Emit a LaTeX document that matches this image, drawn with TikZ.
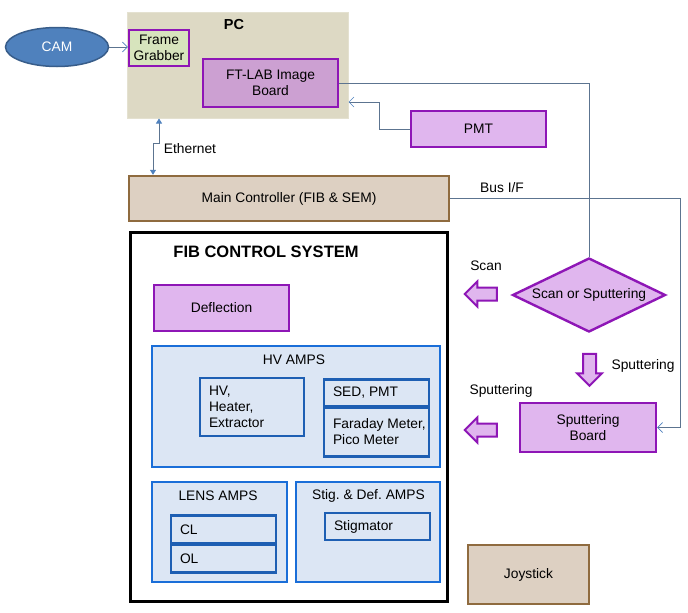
\documentclass[tikz,border=0pt]{standalone}
\usepackage{fontspec}
\setmainfont{Liberation Sans}
\usetikzlibrary{positioning}
\usetikzlibrary{shapes.geometric}
\usetikzlibrary{shapes.arrows}
\usetikzlibrary{arrows.meta}
\definecolor{pcgray}{HTML}{DDD9C4}
\definecolor{fggreen}{HTML}{D7E4BD}
\definecolor{boxpurple}{HTML}{8E16B6}
\definecolor{midpurple}{HTML}{CCA0D2}
\definecolor{lightpurple}{HTML}{E0B6EE}
\definecolor{tanfill}{HTML}{DDD0C2}
\definecolor{tanline}{HTML}{8F6B3F}
\definecolor{ampfill}{HTML}{DCE6F4}
\definecolor{ampline}{HTML}{1A6ED8}
\definecolor{innerline}{HTML}{1E5FB3}
\definecolor{camblue}{HTML}{4F81BD}
\definecolor{camline}{HTML}{385D8A}
\definecolor{edgegray}{HTML}{5C7490}
\hyphenpenalty=10000
\tikzset{%
  purplebox/.style={draw=boxpurple, fill=lightpurple, line width=2.4pt, align=center, inner sep=1pt},
  tanbox/.style={draw=tanline, fill=tanfill, line width=2.4pt},
  ampbox/.style={draw=ampline, fill=ampfill, line width=2.4pt},
  innerbox/.style={draw=innerline, fill=ampfill, line width=2.2pt, align=flush left, text width=#1, inner xsep=9pt, inner ysep=0pt},
  decision/.style={diamond, draw=boxpurple, fill=lightpurple, line width=2.4pt, aspect=2, inner sep=0pt},
  fatarrow/.style={single arrow, draw=boxpurple, fill=lightpurple, line width=2pt, inner sep=5.5pt, single arrow head extend=6pt, minimum height=32},
  myedge/.style={draw=edgegray, line width=0.7pt},
  myarrow/.style={myedge, -{Straight Barb[length=5pt, width=10pt, color=camblue]}},
  titletext/.style={font=\fontsize{16.5}{19}\selectfont\bfseries}
}
\begin{document}
\begin{tikzpicture}[x=1pt, y=-1pt, font=\fontsize{13.8}{16}\selectfont]
  \useasboundingbox (0,0) rectangle (688,613);

  % PC side
  \node[draw=pcgray!80!white, fill=pcgray, line width=1pt, minimum width=221, minimum height=106] (pc) at (237.5,65) {};
  \node[titletext, font=\fontsize{14.5}{16}\selectfont\bfseries] (pctitle) at (234,25) {PC};
  \node[ellipse, draw=camline, fill=camblue, line width=1.5pt, text=white, minimum width=103, minimum height=39] (cam) at (57,47) {CAM};
  \node[purplebox, fill=fggreen, minimum width=60, minimum height=36] (fg) at (159,48) {Frame\\Grabber};
  \node[purplebox, fill=midpurple, minimum width=135, minimum height=48] (ftlab) at (270.5,83) {FT-LAB Image\\Board};
  \node[purplebox, minimum width=135, minimum height=36] (pmt) at (478.5,129) {PMT};
  \node[tanbox, minimum width=320, minimum height=45] (mainc) at (289,198.5) {Main Controller (FIB \& SEM)};

  % FIB control system
  \node[draw=black, line width=3pt, minimum width=317, minimum height=369] (fib) at (288.5,416.5) {};
  \node[titletext] (fibtitle) at (266,252) {FIB CONTROL SYSTEM};
  \node[purplebox, minimum width=135, minimum height=46] (defl) at (221.5,308) {Deflection};

  \node[ampbox, minimum width=288, minimum height=121] (hv) at (296,406.5) {};
  \node (hvtitle) at (294,360) {HV AMPS};
  \node[innerbox=86, minimum height=58] (hvh) at (252,407) {HV,\\Heater,\\Extractor};
  \node[innerbox=87, minimum height=27] (sed) at (376.5,393) {SED,~PMT};
  \node[innerbox=87, minimum height=49] (fara) at (376.5,432) {\mbox{Faraday Meter,}\\Pico~Meter};

  \node[ampbox, minimum width=135, minimum height=100] (lens) at (219.5,532) {};
  \node (lenstitle) at (218,496) {LENS AMPS};
  \node[innerbox=87, minimum height=28] (cl) at (223.5,529.5) {CL};
  \node[innerbox=87, minimum height=28] (ol) at (223.5,558.5) {OL};

  \node[ampbox, minimum width=144, minimum height=100] (sda) at (368,532) {};
  \node (sdatitle) at (368.5,496) {Stig.\ \& Def.\ AMPS};
  \node[innerbox=87, minimum height=27] (stgm) at (377.5,526.5) {Stigmator};

  % right side
  \node[decision, minimum width=153, minimum height=74] (scan) at (589,295) {Scan or Sputtering};
  \node[fatarrow, shape border rotate=180] (scanarr) at (484,294) {};
  \node[fatarrow, shape border rotate=270] (downarr) at (589.5,366.5) {};
  \node[purplebox, minimum width=136, minimum height=49] (sput) at (588,427.5) {Sputtering\\Board};
  \node[fatarrow, shape border rotate=180] (sputarr) at (484,430) {};
  \node[tanbox, minimum width=121, minimum height=59] (joy) at (528.5,574.5) {Joystick};

  \node (scanlbl) at (486,266) {Scan};
  \node (sputlbl) at (643,366) {Sputtering};
  \node (sputlbl2) at (501,391) {Sputtering};
  \node (buslbl) at (502,188) {Bus I/F};
  \node (ethlbl) at (190,149) {Ethernet};

  % connectors
  \draw[myarrow] (cam.east) -- (fg.west |- cam.east);
  \draw[myedge] (ftlab.east) -| (scan.north);
  \draw[myarrow] (pmt.west) -- ++(-30,0) |- ([yshift=-37pt]pc.east);
  \draw[myedge, {Triangle[length=5pt, width=6pt, color=camblue]}-{Triangle[length=5pt, width=6pt, color=camblue]}] ([xshift=-78.5pt]pc.south) -- ++(0,25) -| ([xshift=-136pt]mainc.north);
  \draw[myarrow] (mainc.east) -- ++(230,0) |- (sput.east);

\end{tikzpicture}
\end{document}
